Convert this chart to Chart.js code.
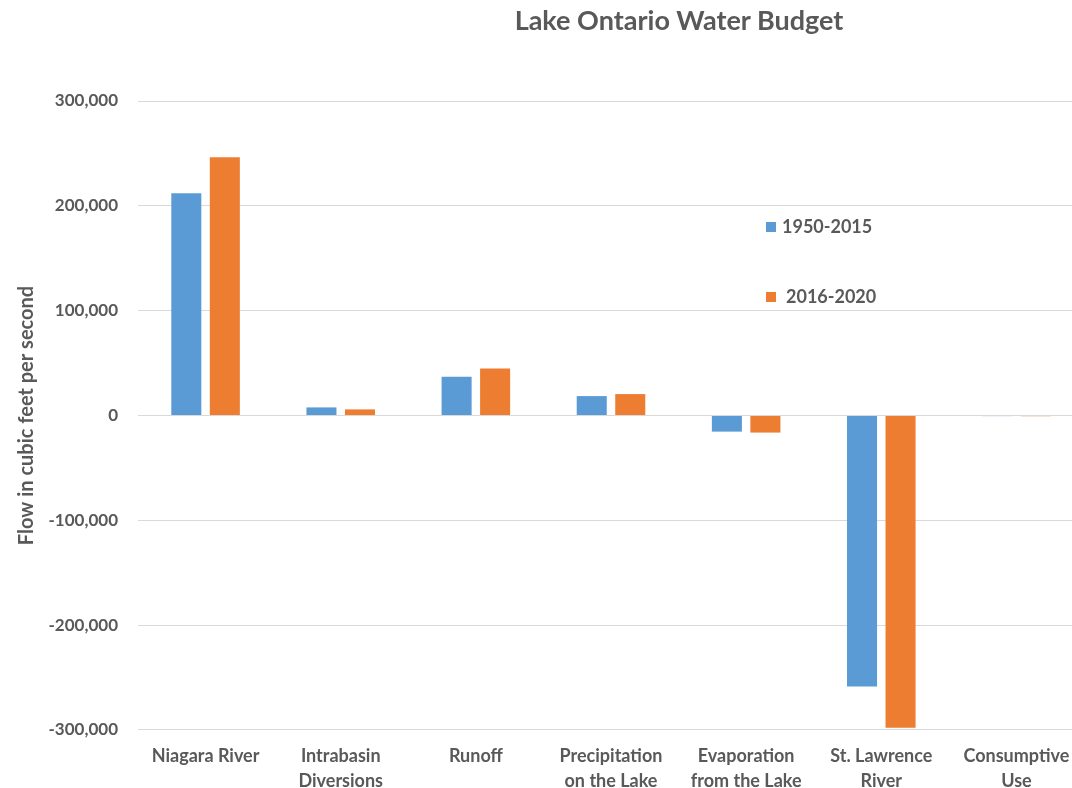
<!DOCTYPE html>
<html>
<head>
<meta charset="utf-8">
<script src="https://cdn.jsdelivr.net/npm/chart.js@4"></script>
<style>
    html, body { margin: 0; padding: 0; background: #fff; overflow: hidden; }
    #wrap { position: relative; width: 1072px; height: 788px; overflow: hidden; }
    #holder { position: absolute; left: 0; top: 0; width: 1100px; height: 800px; }
    #title {
        position: absolute; top: 3px; left: 479px; width: 400px; text-align: center;
        font: bold 27px Lato, sans-serif; color: #595959;
    }
    .leg { position: absolute; font: bold 18px Lato, sans-serif; color: #595959; }
    .leg span { display: inline-block; width: 10px; height: 10px; margin-right: 6px; vertical-align: 1px; }
</style>
</head>
<body>
<div id="wrap">
    <div id="holder"><canvas id="chart" width="1100" height="800"></canvas></div>
    <div id="title"></div>
    <div id="leg1" class="leg" style="left:766px; top:215px;"></div>
    <div id="leg2" class="leg" style="left:766px; top:285px;"></div>
</div>
<script>
const titulo = 'Lake Ontario Water Budget';
const categorias = [
    ['Niagara River'],
    ['Intrabasin', 'Diversions'],
    ['Runoff'],
    ['Precipitation', 'on the Lake'],
    ['Evaporation', 'from the Lake'],
    ['St. Lawrence', 'River'],
    ['Consumptive', 'Use']
];
const periodos = ['1950-2015', '2016-2020'];
const valores1950 = [212000, 7700, 37000, 18500, -15400, -258500, -600];
const valores2016 = [246300, 5800, 44700, 20400, -16300, -297900, -700];
const colores = ['#5b9bd5', '#ed7d31'];

document.getElementById('title').textContent = titulo;
['leg1', 'leg2'].forEach((id, i) => {
    const el = document.getElementById(id);
    const box = document.createElement('span');
    box.style.background = colores[i];
    el.appendChild(box);
    el.appendChild(document.createTextNode(periodos[i]));
});
document.getElementById('leg2').querySelector('span').style.marginRight = '10px';

const textColor = '#595959';
const ctx = document.getElementById('chart').getContext('2d');

const chart = new Chart(ctx, {
    type: 'bar',
    data: {
        labels: categorias,
        datasets: [{
            label: periodos[0],
            data: valores1950,
            backgroundColor: colores[0],
            barPercentage: 0.78,
            categoryPercentage: 0.57
        }, {
            label: periodos[1],
            data: valores2016,
            backgroundColor: colores[1],
            barPercentage: 0.78,
            categoryPercentage: 0.57
        }]
    },
    options: {
        responsive: false,
        animation: false,
        layout: { padding: { top: 101, right: 16, left: 15, bottom: 0 } },
        plugins: {
            legend: { display: false },
            title: { display: false },
            tooltip: { enabled: false }
        },
        scales: {
            x: {
                grid: { display: false },
                border: { display: false },
                ticks: {
                    color: textColor,
                    font: { family: 'Lato', size: 18, weight: 'bold', lineHeight: 1.39 },
                    maxRotation: 0,
                    autoSkip: false,
                    padding: 6
                }
            },
            y: {
                min: -300000,
                max: 300000,
                afterFit: (scale) => { scale.width = 123; }, // area empieza en x=138
                ticks: {
                    stepSize: 100000,
                    color: textColor,
                    padding: 20,
                    font: { family: 'Lato', size: 17, weight: 'bold' },
                    callback: (v) => v.toLocaleString('en-US')
                },
                grid: { color: '#d9d9d9', lineWidth: 1, drawTicks: false },
                border: { display: false },
                title: {
                    display: true,
                    text: 'Flow in cubic feet per second',
                    color: textColor,
                    font: { family: 'Lato', size: 20, weight: 'bold' },
                    padding: { top: 0, bottom: 8 }
                }
            }
        }
    }
});
</script>
</body>
</html>
